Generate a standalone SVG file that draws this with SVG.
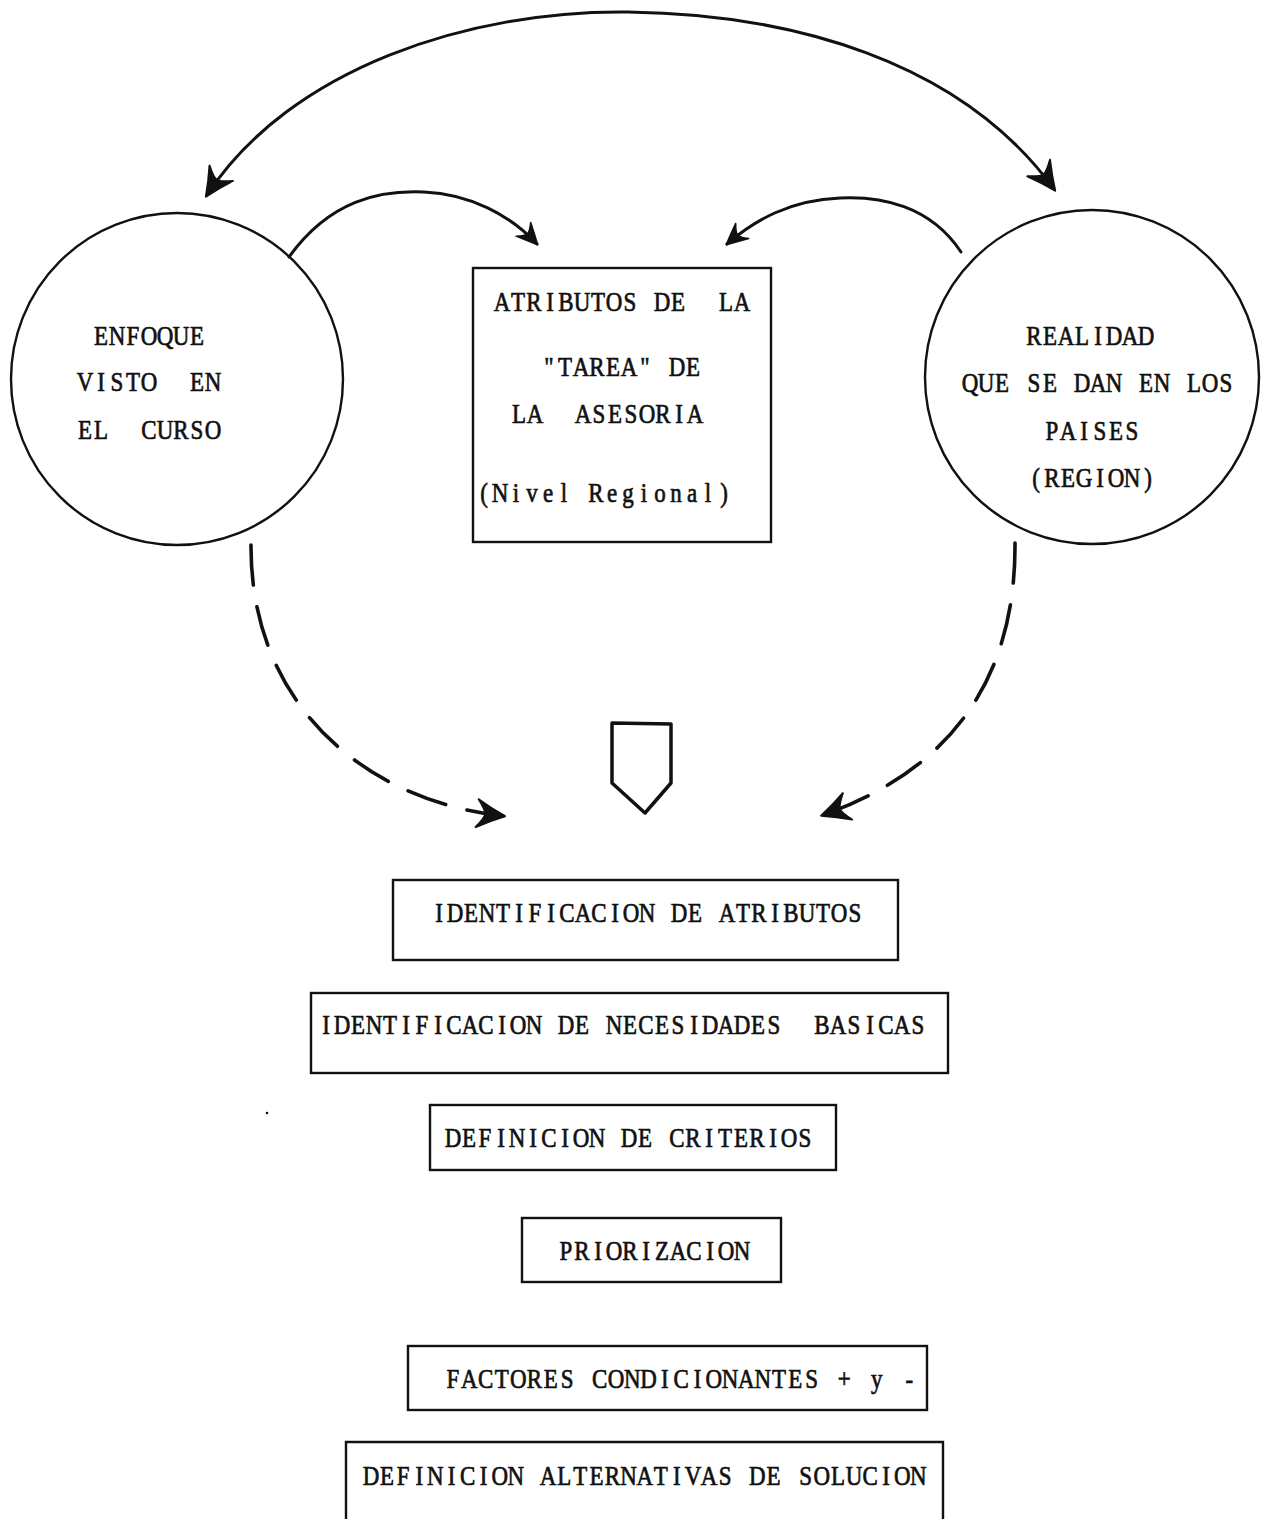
<svg xmlns="http://www.w3.org/2000/svg" width="1262" height="1519" viewBox="0 0 1262 1519">
<style>
.t{font-family:"Liberation Serif","Times New Roman",serif;font-size:27px;fill:#111;stroke:#111;stroke-width:0.7;text-anchor:middle;white-space:pre}
.n{fill:none;stroke:#111;stroke-width:2.4}
.c{fill:none;stroke:#111;stroke-width:3;stroke-linecap:round}
.d{fill:none;stroke:#111;stroke-width:3.6;stroke-linecap:round;stroke-dasharray:40 22}
</style>
<defs>
<marker id="ah" viewBox="-30 -16 34 32" markerWidth="34" markerHeight="32" refX="0" refY="0" orient="auto-start-reverse" markerUnits="userSpaceOnUse">
<path d="M2,0 Q-12,-6 -26,-14 Q-18,-4 -18,0 Q-18,4 -26,14 Q-12,6 2,0 Z" fill="#111" stroke="#111" stroke-width="2" stroke-linejoin="round"/>
</marker>
<marker id="as" viewBox="-24 -13 27 26" markerWidth="27" markerHeight="26" refX="0" refY="0" orient="auto" markerUnits="userSpaceOnUse">
<path d="M1,0 Q-9,-5 -20,-10 Q-14,-3 -14,0 Q-14,3 -20,10 Q-9,5 1,0 Z" fill="#111" stroke="#111" stroke-width="1.5" stroke-linejoin="round"/>
</marker>
</defs>
<rect width="1262" height="1519" fill="#fff"/>
<g id="connectors">
<path class="c" d="M1054 189 C 960 60, 790 14, 628 12 C 470 10, 290 68, 207 195" marker-end="url(#ah)" marker-start="url(#ah)"/>
<path class="c" d="M289 257 C 330 200, 380 190, 424 192 C 470 194, 510 215, 537 244" marker-end="url(#as)"/>
<path class="c" d="M961 252 C 930 205, 880 196, 840 198 C 790 200, 755 220, 727 244" marker-end="url(#as)"/>
<path class="d" d="M251 545 C 250 700, 360 800, 503 816" marker-end="url(#ah)"/>
<path class="d" d="M1015 543 C 1016 680, 950 770, 823 815" marker-end="url(#ah)"/>
<path d="M612 723 L671 724 L671 783 L645 813 L612 783 Z" fill="none" stroke="#111" stroke-width="3.5" stroke-linejoin="round"/>
</g>
<g id="enfoque">
<circle class="n" cx="177" cy="379" r="166"/>
<text class="t" transform="translate(93 345) scale(0.85 1)" x="9.41 28.24 47.06 65.88 84.71 103.53 122.35 141.18 160 178.82 197.65 216.47 235.29 254.12 272.94 291.76 310.59 329.41 348.24 367.06" y="0">ENFOQUE</text>
<text class="t" transform="translate(77 391) scale(0.85 1)" x="9.41 28.24 47.06 65.88 84.71 103.53 122.35 141.18 160 178.82 197.65 216.47 235.29 254.12 272.94 291.76 310.59 329.41 348.24 367.06" y="0">VISTO  EN</text>
<text class="t" transform="translate(77 439) scale(0.85 1)" x="9.41 28.24 47.06 65.88 84.71 103.53 122.35 141.18 160 178.82 197.65 216.47 235.29 254.12 272.94 291.76 310.59 329.41 348.24 367.06" y="0">EL  CURSO</text>
</g>
<g id="realidad">
<circle class="n" cx="1092" cy="377" r="167"/>
<text class="t" transform="translate(1026 345) scale(0.85 1)" x="9.41 28.24 47.06 65.88 84.71 103.53 122.35 141.18 160 178.82 197.65 216.47 235.29 254.12 272.94 291.76 310.59 329.41 348.24 367.06" y="0">REALIDAD</text>
<text class="t" transform="translate(962 392) scale(0.85 1)" x="9.41 28.24 47.06 65.88 84.71 103.53 122.35 141.18 160 178.82 197.65 216.47 235.29 254.12 272.94 291.76 310.59 329.41 348.24 367.06" y="0">QUE SE DAN EN LOS</text>
<text class="t" transform="translate(1044 440) scale(0.85 1)" x="9.41 28.24 47.06 65.88 84.71 103.53 122.35 141.18 160 178.82 197.65 216.47 235.29 254.12 272.94 291.76 310.59 329.41 348.24 367.06" y="0">PAISES</text>
<text class="t" transform="translate(1028 487) scale(0.85 1)" x="9.41 28.24 47.06 65.88 84.71 103.53 122.35 141.18 160 178.82 197.65 216.47 235.29 254.12 272.94 291.76 310.59 329.41 348.24 367.06" y="0">(REGION)</text>
</g>
<g id="atributos">
<rect class="n" x="473" y="268" width="298" height="274"/>
<text class="t" transform="translate(494 311) scale(0.85 1)" x="9.41 28.24 47.06 65.88 84.71 103.53 122.35 141.18 160 178.82 197.65 216.47 235.29 254.12 272.94 291.76 310.59 329.41 348.24 367.06" y="0">ATRIBUTOS DE  LA</text>
<text class="t" transform="translate(541 376) scale(0.85 1)" x="9.41 28.24 47.06 65.88 84.71 103.53 122.35 141.18 160 178.82 197.65 216.47 235.29 254.12 272.94 291.76 310.59 329.41 348.24 367.06" y="0">"TAREA" DE</text>
<text class="t" transform="translate(511 423) scale(0.85 1)" x="9.41 28.24 47.06 65.88 84.71 103.53 122.35 141.18 160 178.82 197.65 216.47 235.29 254.12 272.94 291.76 310.59 329.41 348.24 367.06" y="0">LA  ASESORIA</text>
<text class="t" transform="translate(476 502) scale(0.85 1)" x="9.41 28.24 47.06 65.88 84.71 103.53 122.35 141.18 160 178.82 197.65 216.47 235.29 254.12 272.94 291.76 310.59 329.41 348.24 367.06" y="0">(Nivel Regional)</text>
</g>
<g id="id-atributos">
<rect class="n" x="393" y="880" width="505" height="80"/>
<text class="t" transform="translate(431 922) scale(0.85 1)" x="9.41 28.24 47.06 65.88 84.71 103.53 122.35 141.18 160 178.82 197.65 216.47 235.29 254.12 272.94 291.76 310.59 329.41 348.24 367.06 385.88 404.71 423.53 442.35 461.18 480 498.82 517.65 536.47 555.29 574.12 592.94 611.76 630.59 649.41 668.24 687.06 705.88" y="0">IDENTIFICACION DE ATRIBUTOS</text>
</g>
<g id="id-necesidades">
<rect class="n" x="311" y="993" width="637" height="80"/>
<text class="t" transform="translate(318 1034) scale(0.85 1)" x="9.41 28.24 47.06 65.88 84.71 103.53 122.35 141.18 160 178.82 197.65 216.47 235.29 254.12 272.94 291.76 310.59 329.41 348.24 367.06 385.88 404.71 423.53 442.35 461.18 480 498.82 517.65 536.47 555.29 574.12 592.94 611.76 630.59 649.41 668.24 687.06 705.88" y="0">IDENTIFICACION DE NECESIDADES  BASICAS</text>
</g>
<g id="criterios">
<rect class="n" x="430" y="1105" width="406" height="65"/>
<text class="t" transform="translate(445 1147) scale(0.85 1)" x="9.41 28.24 47.06 65.88 84.71 103.53 122.35 141.18 160 178.82 197.65 216.47 235.29 254.12 272.94 291.76 310.59 329.41 348.24 367.06 385.88 404.71 423.53 442.35 461.18 480" y="0">DEFINICION DE CRITERIOS</text>
</g>
<g id="priorizacion">
<rect class="n" x="522" y="1218" width="259" height="64"/>
<text class="t" transform="translate(558 1260) scale(0.85 1)" x="9.41 28.24 47.06 65.88 84.71 103.53 122.35 141.18 160 178.82 197.65 216.47 235.29 254.12 272.94 291.76" y="0">PRIORIZACION</text>
</g>
<g id="factores">
<rect class="n" x="408" y="1346" width="519" height="64"/>
<text class="t" transform="translate(445 1388) scale(0.85 1)" x="9.41 28.59 47.76 66.94 86.12 105.29 124.47 143.65 162.82 182 201.18 220.35 239.53 258.71 277.88 297.06 316.24 335.41 354.59 373.76 392.94 412.12 431.29 450.47 469.65 488.82 508 527.18 546.35" y="0">FACTORES CONDICIONANTES + y -</text>
</g>
<g id="alternativas">
<path class="n" d="M346 1530 L346 1442 L943 1442 L943 1530"/>
<text class="t" transform="translate(363 1485) scale(0.85 1)" x="9.41 28.35 47.29 66.24 85.18 104.12 123.06 142 160.94 179.88 198.82 217.76 236.71 255.65 274.59 293.53 312.47 331.41 350.35 369.29 388.24 407.18 426.12 445.06 464 482.94 501.88 520.82 539.76 558.71 577.65 596.59 615.53 634.47 653.41" y="0">DEFINICION ALTERNATIVAS DE SOLUCION</text>
</g>
<circle cx="267" cy="1113" r="1.3" fill="#111"/>
</svg>
